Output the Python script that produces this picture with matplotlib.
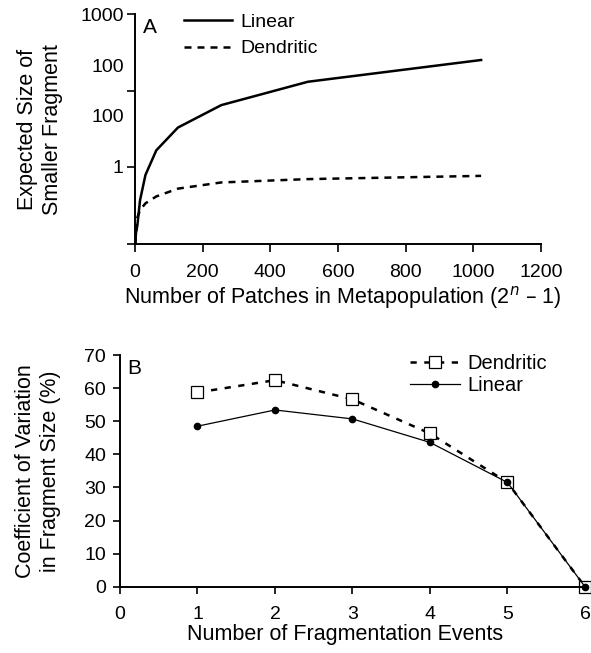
import numpy as np
import matplotlib.pyplot as plt
from matplotlib.ticker import FixedLocator, NullFormatter, FixedFormatter

plt.rcParams['font.family'] = ['Liberation Sans', 'DejaVu Sans']

# Panel A data (patches = 2^n - 1)
patches = [1, 3, 7, 15, 31, 63, 127, 255, 511, 1023]
linear_size = [0.03, 0.05, 0.07, 0.22, 0.69, 2.1, 5.9, 16.3, 47, 126]
dendritic_size = [0.03, 0.05, 0.1, 0.14, 0.19, 0.26, 0.37, 0.49, 0.57, 0.66]
a_ticklabels = ['1', '100', '100', '1000']

# Panel B data
events = [1, 2, 3, 4, 5, 6]
cv_dendritic = [58.7, 62.4, 56.6, 46.3, 31.5, 0]
cv_linear = [48.5, 53.4, 50.7, 43.6, 31.5, 0]

TICK = 14
LAB = 15.5

fig = plt.figure(figsize=(5.91, 6.53), dpi=100)

# ---- panel A
ax1 = fig.add_axes([0.2284, 0.6259, 0.687, 0.3522])
ax1.plot(patches, linear_size, color='black', lw=1.8, label='Linear')
ax1.plot(patches, dendritic_size, color='black', lw=1.8, ls=(0, (2.8, 2.4)), label='Dendritic')
ax1.set_yscale('log')
ax1.set_ylim(0.0297, 1000)
ax1.set_xlim(0, 1200)
ax1.set_xticks(np.arange(0, 1201, 200))
# labels sit on the decades, tick marks do not
ax1.yaxis.remove_overlapping_locs = False
ax1.yaxis.set_major_locator(FixedLocator([1, 10, 100, 1000]))
ax1.yaxis.set_major_formatter(FixedFormatter(a_ticklabels))
ax1.yaxis.set_minor_locator(FixedLocator([0.0297, 1, 30.9, 1000]))
ax1.yaxis.set_minor_formatter(NullFormatter())
ax1.tick_params(axis='y', which='major', length=0, labelsize=TICK, pad=8)
ax1.tick_params(axis='y', which='minor', length=6, width=1.2)
ax1.tick_params(axis='x', length=6, width=1.2, labelsize=TICK, pad=8)
ax1.spines['top'].set_visible(False)
ax1.spines['right'].set_visible(False)
for s in ['left', 'bottom']:
    ax1.spines[s].set_linewidth(1.4)
ax1.set_xlabel('Number of Patches in Metapopulation (2$^{n}$ \u2013 1)', fontsize=LAB, va='baseline')
ax1.xaxis.set_label_coords(0.512, -0.255)
ax1.set_ylabel('Expected Size of\nSmaller Fragment', fontsize=LAB, va='center')
ax1.yaxis.set_label_coords(-0.234, 0.5)
ax1.text(0.02, 0.985, 'A', transform=ax1.transAxes, fontsize=15, va='top', ha='left')
ax1.legend(loc='upper left', bbox_to_anchor=(0.12, 1.005), frameon=False, fontsize=14,
           handlelength=2.5, handletextpad=0.4, labelspacing=0.46, borderaxespad=0, borderpad=0)

# ---- panel B
ax2 = fig.add_axes([0.203, 0.1015, 0.7868, 0.3548])
ax2.plot(events, cv_dendritic, color='black', lw=1.8, ls=(0, (2.5, 3)), marker='s', ms=8,
         mfc='white', mec='black', mew=0.9, label='Dendritic')
ax2.plot(events, cv_linear, color='black', lw=0.9, marker='o', ms=4.5, label='Linear')
ax2.set_xlim(0, 6)
ax2.set_ylim(0, 70)
ax2.set_xticks(range(0, 7))
ax2.set_yticks(range(0, 71, 10))
ax2.tick_params(axis='both', length=5, width=1.2, labelsize=TICK)
ax2.tick_params(axis='x', pad=9)
ax2.tick_params(axis='y', pad=5)
ax2.spines['top'].set_visible(False)
ax2.spines['right'].set_visible(False)
for s in ['left', 'bottom']:
    ax2.spines[s].set_linewidth(1.4)
for line in ax2.lines:
    line.set_clip_on(False)
ax2.set_xlabel('Number of Fragmentation Events', fontsize=LAB, va='baseline')
ax2.xaxis.set_label_coords(0.483, -0.23)
ax2.set_ylabel('Coefficient of Variation\nin Fragment Size (%)', fontsize=LAB, va='center')
ax2.yaxis.set_label_coords(-0.1765, 0.5)
ax2.text(0.015, 0.985, 'B', transform=ax2.transAxes, fontsize=15, va='top', ha='left')
ax2.legend(loc='upper right', bbox_to_anchor=(0.918, 1.006), frameon=False, fontsize=14.5,
           handlelength=2.5, handletextpad=0.35, labelspacing=0.16, borderaxespad=0, borderpad=0)

fig.savefig('out.png', dpi=100)
